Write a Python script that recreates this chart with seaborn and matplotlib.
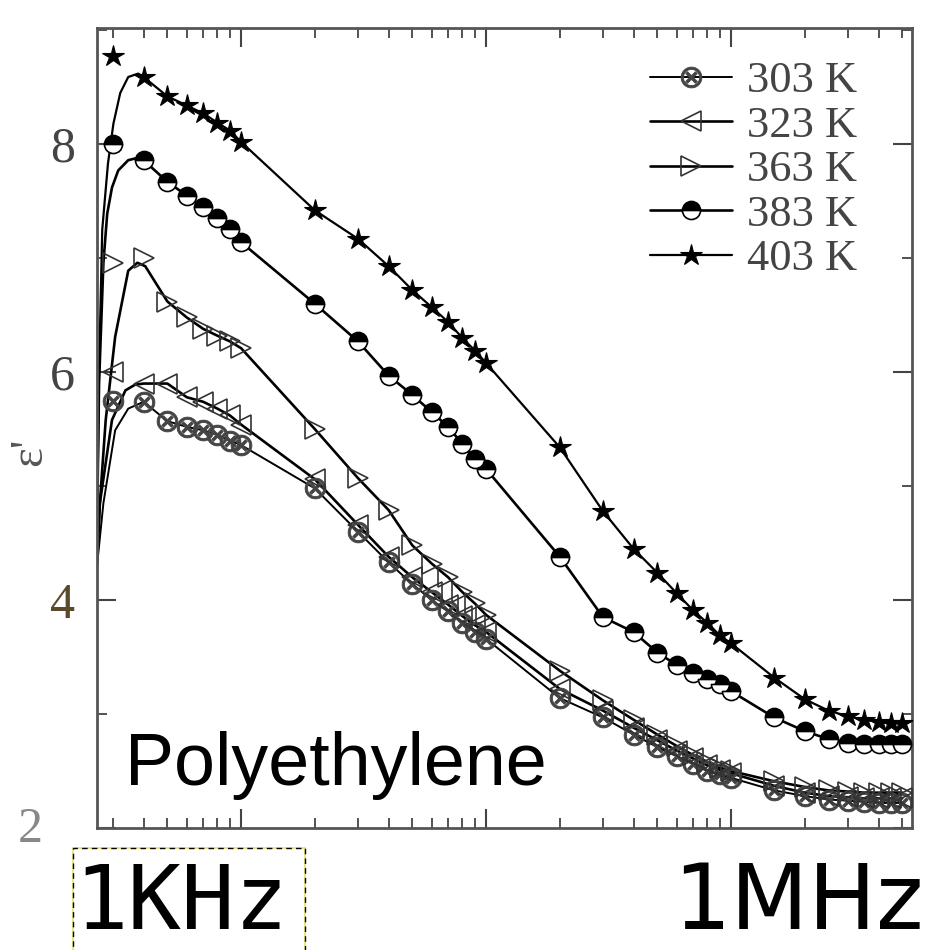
import numpy as np
import pandas as pd
import seaborn as sns
import matplotlib
matplotlib.use("Agg")
import matplotlib.pyplot as plt
from matplotlib.lines import Line2D
from matplotlib.patches import Rectangle
from matplotlib.ticker import LogLocator, NullFormatter, FixedLocator

# ---------------- data ----------------
freq = [300, 400, 500, 600, 700, 800, 900, 1000,
        2000, 3000, 4000, 5000, 6000, 7000, 8000, 9000, 10000,
        20000, 30000, 40000, 50000, 60000, 70000, 80000, 90000, 100000,
        150000, 200000, 250000, 300000, 350000, 400000, 450000, 500000]

labels = ["303 K", "323 K", "363 K", "383 K", "403 K"]

eps_303 = [5.75, 5.74, 5.57, 5.52, 5.49, 5.45, 5.40, 5.36,
           4.98, 4.60, 4.33, 4.14, 4.00, 3.90, 3.80, 3.72, 3.66,
           3.14, 2.97, 2.82, 2.71, 2.63, 2.56, 2.50, 2.47, 2.44,
           2.33, 2.28, 2.25, 2.24, 2.23, 2.22, 2.22, 2.22]
eps_323 = [6.00, 5.90, 5.90, 5.78, 5.74, 5.68, 5.62, 5.54,
           5.06, 4.66, 4.38, 4.20, 4.07, 3.96, 3.86, 3.78, 3.72,
           3.22, 3.03, 2.88, 2.77, 2.68, 2.61, 2.55, 2.51, 2.48,
           2.37, 2.31, 2.28, 2.27, 2.26, 2.26, 2.26, 2.26]
eps_363 = [6.96, 7.00, 6.62, 6.48, 6.38, 6.32, 6.27, 6.21,
           5.50, 5.07, 4.79, 4.48, 4.32, 4.20, 4.07, 3.97, 3.87,
           3.38, 3.12, 2.95, 2.82, 2.72, 2.64, 2.58, 2.53, 2.50,
           2.41, 2.36, 2.33, 2.32, 2.31, 2.31, 2.31, 2.31]
eps_383 = [8.00, 7.86, 7.67, 7.55, 7.45, 7.35, 7.26, 7.14,
           6.60, 6.27, 5.97, 5.80, 5.65, 5.52, 5.37, 5.24, 5.15,
           4.38, 3.85, 3.72, 3.54, 3.43, 3.36, 3.31, 3.26, 3.20,
           2.97, 2.85, 2.78, 2.75, 2.74, 2.74, 2.74, 2.74]
eps_403 = [8.77, 8.59, 8.42, 8.34, 8.27, 8.19, 8.12, 8.02,
           7.42, 7.17, 6.93, 6.72, 6.57, 6.44, 6.30, 6.19, 6.08,
           5.34, 4.78, 4.45, 4.24, 4.06, 3.91, 3.80, 3.69, 3.62,
           3.32, 3.13, 3.03, 2.98, 2.95, 2.93, 2.92, 2.92]

# fitted-curve low-frequency rise (before joining the measured points)
fit_head_f_303 = [258, 274, 306, 346]
fit_head_v_303 = [4.30, 4.85, 5.49, 5.68]
fit_head_f_323 = [258, 265, 297, 337, 369]
fit_head_v_323 = [4.30, 4.85, 5.58, 5.84, 5.89]
fit_head_f_363 = [258, 265, 280, 306, 346, 377, 406]
fit_head_v_363 = [4.40, 4.85, 5.58, 6.31, 6.89, 6.96, 6.93]
fit_head_f_383 = [258, 263, 274, 284, 297, 315, 346, 377]
fit_head_v_383 = [4.60, 5.90, 6.96, 7.39, 7.62, 7.77, 7.86, 7.88]
fit_head_f_403 = [258, 263, 271, 286, 301, 321, 346, 380]
fit_head_v_403 = [4.60, 6.00, 7.25, 7.83, 8.18, 8.45, 8.59, 8.62]

# index in freq where fitted curve joins the data
join_303, join_323, join_363, join_383, join_403 = 1, 1, 2, 1, 1

# ---------------- figure ----------------
sns.set_theme(style="ticks")
plt.rcParams["font.family"] = ["DejaVu Sans"]

fig = plt.figure(figsize=(9.3, 9.5), dpi=100)
W, H = 930, 950
ax = fig.add_axes([97 / W, 1 - 828 / H, (912 - 97) / W, (828 - 28) / H])

styles = [
    dict(marker=r"$\otimes$", ms=15, mfc="#444", mec="#444", mew=0.6),
    dict(marker="<", ms=14, mfc="none", mec="#333", mew=1.2),
    dict(marker=">", ms=14, mfc="none", mec="#333", mew=1.2),
    dict(marker="o", ms=13, fillstyle="top", mfc="black", mfcalt="white", mec="black", mew=1.2),
    dict(marker="*", ms=16, mfc="black", mec="black", mew=0.8),
]
series = [
    (eps_303, fit_head_f_303, fit_head_v_303, join_303),
    (eps_323, fit_head_f_323, fit_head_v_323, join_323),
    (eps_363, fit_head_f_363, fit_head_v_363, join_363),
    (eps_383, fit_head_f_383, fit_head_v_383, join_383),
    (eps_403, fit_head_f_403, fit_head_v_403, join_403),
]
lws = [1.4, 1.9, 1.9, 1.9, 1.6]

for (vals, hf, hv, j), st, lw in zip(series, styles, lws):
    df = pd.DataFrame({"f": hf + freq[j:], "v": hv + vals[j:]})
    sns.lineplot(data=df, x="f", y="v", ax=ax, color="black", lw=lw,
                 sort=False, estimator=None, zorder=2)
    ax.plot(freq, vals, ls="none", zorder=3, **st)

ax.set_xscale("log")
ax.set_xlim(258, 548000)
ax.set_ylim(2, 9.02)
ax.set_xlabel("")
ax.set_ylabel("")

ax.xaxis.set_major_locator(LogLocator(base=10, numticks=12))
ax.xaxis.set_minor_locator(LogLocator(base=10, subs=np.arange(2, 10), numticks=12))
ax.xaxis.set_major_formatter(NullFormatter())
ax.xaxis.set_minor_formatter(NullFormatter())
ax.yaxis.set_major_locator(FixedLocator([2, 4, 6, 8]))
ax.yaxis.set_minor_locator(FixedLocator([3, 5, 7, 9]))
ax.set_yticklabels(["", "4", "6", "8"])
ax.tick_params(which="both", direction="in", top=True, right=True, color="#444")
ax.tick_params(which="major", length=14, width=1.5, pad=16)
ax.tick_params(which="minor", length=7, width=1.3)
for lab in ax.get_yticklabels():
    lab.set_fontfamily("Liberation Serif")
    lab.set_fontsize(36)
    lab.set_color("#444")
ax.get_yticklabels()[1].set_color("#5a4a2a")
for sp in ax.spines.values():
    sp.set_color("#555")
    sp.set_linewidth(2)

# legend
handles = [Line2D([], [], color="black", lw=lw, **st) for st, lw in zip(styles, lws)]
leg = ax.legend(handles, labels, loc="upper left",
                bbox_to_anchor=(650 / W, 1 - 61 / H), bbox_transform=fig.transFigure,
                frameon=False, prop={"family": "Liberation Serif", "size": 32},
                handlelength=1.85, handletextpad=0.34, labelspacing=0.1,
                borderpad=0, borderaxespad=0)
for t in leg.get_texts():
    t.set_color("#444")

# texts
fig.text(125 / W, 1 - 785 / H, "Polyethylene", fontsize=53,
         family="Liberation Sans", va="baseline", ha="left", color="black")
fig.text(30 / W, 1 - 830 / H, "2", family="Liberation Serif", fontsize=36,
         color="#888", ha="center", va="center")
fig.text(30 / W, 1 - 452 / H, "ε'", family="Liberation Serif", fontsize=34,
         color="#555", rotation=90, ha="center", va="center")
fig.text(74 / W, 1 - 929 / H, "1KHz", family="DejaVu Sans Mono", fontsize=64,
         va="baseline", ha="left", color="black")
fig.text(924 / W, 1 - 929 / H, "1MHz", family="DejaVu Sans", fontsize=65,
         va="baseline", ha="right", color="black")

box_kw = dict(transform=fig.transFigure, fill=False)
fig.add_artist(Rectangle((73 / W, -0.02), (305 - 73) / W, 1 - 848 / H + 0.02,
                         ec="#e8e070", lw=1.2, **box_kw))
fig.add_artist(Rectangle((73 / W, -0.02), (305 - 73) / W, 1 - 848 / H + 0.02,
                         ec="black", lw=1.0, ls=(0, (4, 3)), **box_kw))

fig.savefig("out.png", dpi=100)
